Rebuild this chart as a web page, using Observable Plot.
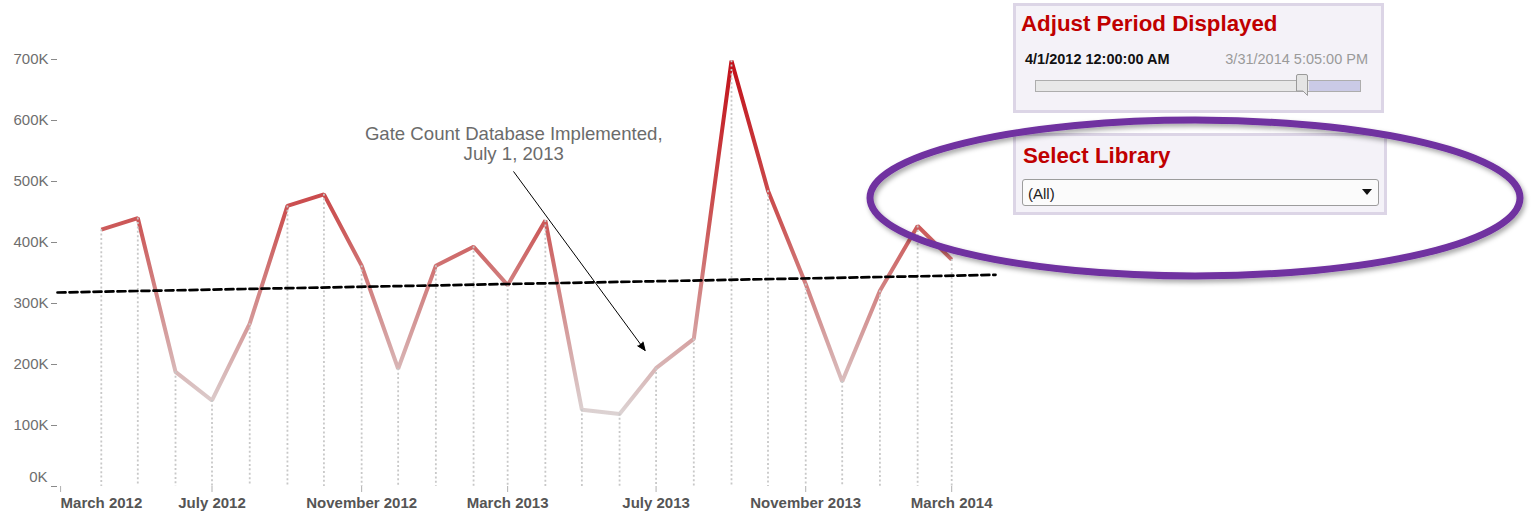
<!DOCTYPE html>
<html>
<head>
<meta charset="utf-8">
<script src="https://cdn.jsdelivr.net/npm/d3@7"></script>
<script src="https://cdn.jsdelivr.net/npm/@observablehq/plot@0.6"></script>
<style>
  body { margin: 0; background: #fff; font-family: "Liberation Sans", Arial, sans-serif; }
  #page { position: relative; width: 1532px; height: 514px; overflow: hidden; background: #fff; }
  #chart { position: absolute; left: 0; top: 0; }
  .abs { position: absolute; white-space: nowrap; line-height: 1; }
  .panel { position: absolute; box-sizing: border-box; background: #f4f2f8; border: 3px solid #dcd5e6; }
  .ptitle { font-size: 22.3px; font-weight: bold; color: #c00000; }
  #track { position: absolute; left: 1035px; top: 80px; width: 326px; height: 12px; box-sizing: border-box;
           background: linear-gradient(to right, #e8e8e8 0, #e8e8e8 273px, #cacae6 273px, #cacae6 100%);
           border: 1px solid #adadad; }
  #handle { position: absolute; left: 1296px; top: 74px; width: 12px; height: 22px; }
  #dropdown { position: absolute; left: 1022px; top: 179px; width: 357px; height: 27px; box-sizing: border-box;
              background: #fbfbfb; border: 1px solid #9c9c9c; border-radius: 3px; }
  #overlay { position: absolute; left: 0; top: 0; pointer-events: none; }
</style>
</head>
<body>
<div id="page">
  <div id="chart"></div>

  <div class="panel" style="left:1013px;top:3px;width:371px;height:110px;"></div>
  <div class="abs ptitle" style="left:1021px;top:12.5px;">Adjust Period Displayed</div>
  <div class="abs" style="left:1025px;top:52px;font-size:14.5px;font-weight:bold;color:#111;">4/1/2012 12:00:00 AM</div>
  <div class="abs" style="right:164px;top:52px;font-size:14.5px;color:#9a9a9a;">3/31/2014 5:05:00 PM</div>
  <div id="track"></div>
  <svg id="handle" viewBox="0 0 12 22"><path d="M0.5,2 Q0.5,0.5 2,0.5 L10,0.5 Q11.5,0.5 11.5,2 L11.5,21.5 L7,17 L0.5,17 Z" fill="#e4e4e4" stroke="#9a9a9a" stroke-width="1"/></svg>

  <div class="panel" style="left:1013px;top:133px;width:374px;height:82px;"></div>
  <div class="abs ptitle" style="left:1023px;top:144.5px;">Select Library</div>
  <div id="dropdown"></div>
  <div class="abs" style="left:1028px;top:186px;font-size:15px;color:#222;">(All)</div>
  <svg class="abs" style="left:1362px;top:189px;" width="11" height="7"><path d="M0,0 L10,0 L5,6 Z" fill="#111"/></svg>

  <svg id="overlay" width="1532" height="514">
    <defs>
      <filter id="shadow" x="-10%" y="-20%" width="120%" height="140%">
        <feDropShadow dx="2" dy="3" stdDeviation="2.5" flood-color="#000" flood-opacity="0.35"/>
      </filter>
    </defs>
    <ellipse cx="1195" cy="198" rx="325" ry="78" fill="none" stroke="#7030a0" stroke-width="7" filter="url(#shadow)"/>
  </svg>
</div>

<script>
// ---------- data ----------
const months = ["2012-04","2012-05","2012-06","2012-07","2012-08","2012-09","2012-10","2012-11","2012-12",
                "2013-01","2013-02","2013-03","2013-04","2013-05","2013-06","2013-07","2013-08","2013-09",
                "2013-10","2013-11","2013-12","2014-01","2014-02","2014-03"];
const gateCounts = [421000, 440000, 188000, 141000, 267000, 460000, 479000, 362000, 193000,
                    362000, 393000, 330000, 436000, 126000, 119000, 194000, 242000, 698000,
                    485000, 332000, 172000, 321000, 427000, 372000];
const yTicks = [0, 100000, 200000, 300000, 400000, 500000, 600000, 700000];
const xTickMonths = ["2012-03", "2012-07", "2012-11", "2013-03", "2013-07", "2013-11", "2014-03"];
const xDomainDays = ["2012-02-25", "2014-04-06"];
const trendDays = ["2012-02-25", "2014-04-06"];
const trendValues = [318000, 347000];
const annotationLines = ["Gate Count Database Implemented,", "July 1, 2013"];
const annotationDay = "2013-03-06";
const annotationValue = 562000;
const arrowDays = ["2013-03-06", "2013-06-22"];
const arrowValues = [516000, 223000];
const colorStopValues = [118000, 430000, 700000];
const colorStopColors = ["#dcd3d3", "#cc5858", "#c20f18"];

// ---------- build ----------
const parseMonth = d3.utcParse("%Y-%m");
const parseDay = d3.utcParse("%Y-%m-%d");
const data = months.map((m, i) => ({date: parseMonth(m), value: gateCounts[i]}));
const trend = trendDays.map((d, i) => ({date: parseDay(d), value: trendValues[i]}));
const xTicks = xTickMonths.map(parseMonth);
const fmtK = d => `${d / 1000}K`;
const fmtMonth = d3.utcFormat("%B %Y");

function gradientDefs(index, scales) {
  const g = d3.create("svg:g");
  const v0 = colorStopValues[0], v1 = colorStopValues[colorStopValues.length - 1];
  const grad = g.append("defs").append("linearGradient")
    .attr("id", "gcGrad")
    .attr("gradientUnits", "userSpaceOnUse")
    .attr("x1", 0).attr("x2", 0)
    .attr("y1", scales.y(v0)).attr("y2", scales.y(v1));
  colorStopValues.forEach((v, i) => {
    grad.append("stop").attr("offset", (v - v0) / (v1 - v0)).attr("stop-color", colorStopColors[i]);
  });
  return g.node();
}

const chart = Plot.plot({
  width: 1532,
  height: 514,
  marginLeft: 57,
  marginRight: 537,
  marginTop: 59,
  marginBottom: 28,
  style: {fontFamily: "'Liberation Sans', Arial, sans-serif", background: "transparent", overflow: "visible"},
  x: {type: "utc", domain: xDomainDays.map(parseDay), label: null},
  y: {domain: [0, 700000], label: null},
  marks: [
    gradientDefs,
    Plot.axisY({ticks: yTicks, tickFormat: d => d === 0 ? "" : fmtK(d), tickSize: 6, tickPadding: 3,
                fontSize: 15, fill: "#6e6e6e", stroke: "#8a8a8a", label: null}),
    Plot.text([0], {y: d => d, text: d => fmtK(d), frameAnchor: "left", dx: -10, dy: -9, textAnchor: "end",
                    fontSize: 15, fill: "#6e6e6e"}),
    Plot.axisX({ticks: xTicks.slice(1), tickFormat: fmtMonth, tickSize: 6, tickPadding: 5,
                fontSize: 15, fontWeight: "bold", fill: "#555", stroke: "#b0b0b0", label: null}),
    Plot.axisX({ticks: xTicks.slice(0, 1), tickFormat: fmtMonth, tickSize: 6, tickPadding: 5,
                textAnchor: "start", dx: -3, label: null,
                fontSize: 15, fontWeight: "bold", fill: "#555", stroke: "#b0b0b0"}),
    Plot.line(data, {x: "date", y: "value", stroke: "url(#gcGrad)", strokeWidth: 4,
                     strokeLinejoin: "miter", strokeLinecap: "butt"}),
    Plot.ruleX(data, {x: "date", y1: "value", y2: 0, stroke: "#c8c8c8", strokeWidth: 1.8,
                      strokeDasharray: "2,2.4"}),
    Plot.line(trend, {x: "date", y: "value", stroke: "#000", strokeWidth: 2.7, strokeDasharray: "8,4"}),
    Plot.text([annotationLines.join("\n")], {x: () => parseDay(annotationDay), y: () => annotationValue,
                     text: d => d, fontSize: 18.6, lineHeight: 1.1, fill: "#6b6b6b", textAnchor: "middle"}),
    Plot.arrow([0], {x1: () => parseDay(arrowDays[0]), y1: () => arrowValues[0],
                     x2: () => parseDay(arrowDays[1]), y2: () => arrowValues[1],
                     stroke: "#000", fill: "#000", strokeWidth: 1, headLength: 13, headAngle: 45, bend: 0})
  ]
});
document.getElementById("chart").appendChild(chart);
</script>
</body>
</html>
